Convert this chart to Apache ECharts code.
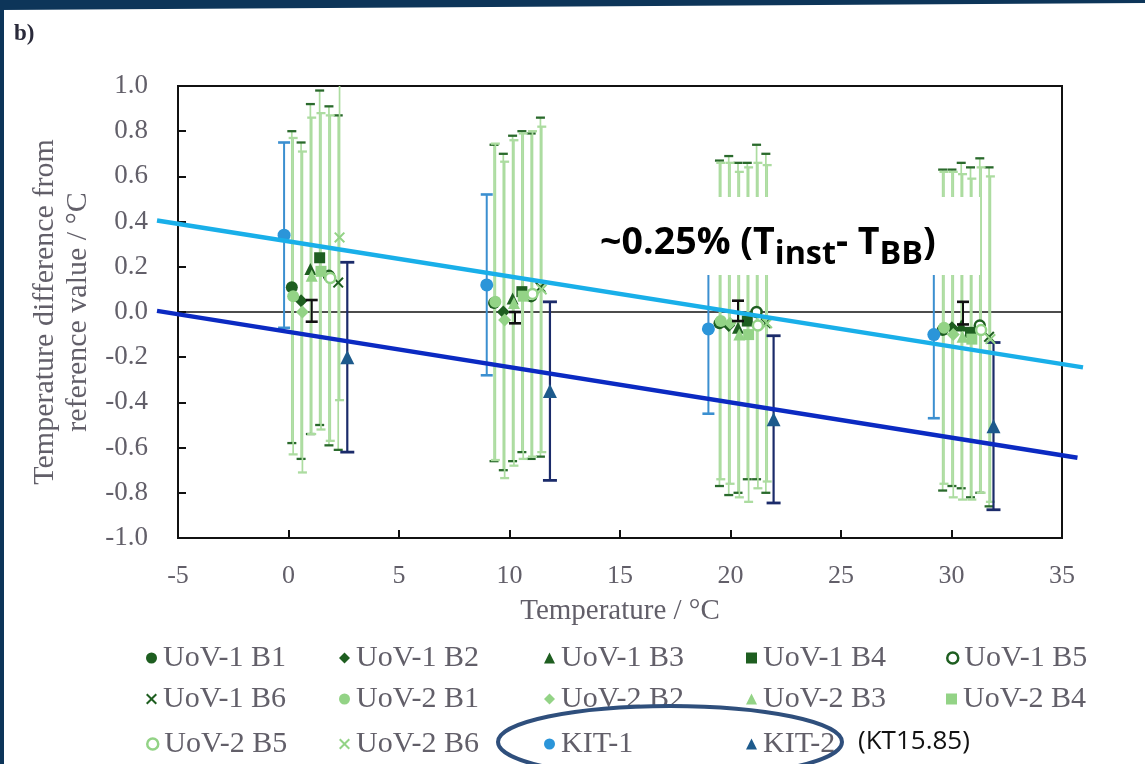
<!DOCTYPE html>
<html>
<head>
<meta charset="utf-8">
<script src="https://cdn.jsdelivr.net/npm/echarts@6/dist/echarts.min.js"></script>
<style>
  html, body { margin: 0; padding: 0; background: #ffffff; }
  #chart { width: 1145px; height: 764px; }
</style>
</head>
<body>
<div id="chart"></div>
<script>
// Each point: [temperature / °C, difference from reference / °C, ± uncertainty]
const uov1B1 = [[0.15, 0.11, 0.69], [9.30, 0.04, 0.70], [19.50, -0.05, 0.72], [29.60, -0.08, 0.71]];
const uov1B2 = [[0.57, 0.05, 0.70], [9.72, 0.00, 0.70], [19.92, -0.06, 0.75], [30.02, -0.07, 0.70]];
const uov1B3 = [[0.99, 0.19, 0.73], [10.14, 0.06, 0.72], [20.34, -0.07, 0.73], [30.44, -0.06, 0.72]];
const uov1B4 = [[1.41, 0.24, 0.74], [10.56, 0.09, 0.71], [20.76, -0.04, 0.70], [30.86, -0.09, 0.73]];
const uov1B5 = [[1.83, 0.16, 0.75], [10.98, 0.07, 0.72], [21.18, 0.00, 0.74], [31.28, -0.06, 0.74]];
const uov1B6 = [[2.25, 0.13, 0.74], [11.40, 0.11, 0.75], [21.60, -0.05, 0.75], [31.70, -0.11, 0.75]];
const uov2B1 = [[0.21, 0.07, 0.70], [9.36, 0.045, 0.70], [19.56, -0.04, 0.70], [29.66, -0.07, 0.69]];
const uov2B2 = [[0.63, 0.00, 0.71], [9.78, -0.035, 0.70], [19.98, -0.05, 0.71], [30.08, -0.10, 0.72]];
const uov2B3 = [[1.05, 0.16, 0.70], [10.20, 0.04, 0.72], [20.40, -0.10, 0.72], [30.50, -0.11, 0.72]];
const uov2B4 = [[1.47, 0.18, 0.70], [10.62, 0.07, 0.72], [20.82, -0.10, 0.74], [30.92, -0.12, 0.71]];
const uov2B5 = [[1.89, 0.15, 0.72], [11.04, 0.08, 0.72], [21.24, -0.06, 0.72], [31.34, -0.08, 0.72]];
const uov2B6 = [[2.31, 0.33, 0.72], [11.46, 0.10, 0.72], [21.66, -0.05, 0.70], [31.76, -0.12, 0.72]];
const kit1 = [[-0.20, 0.34, 0.41], [8.97, 0.12, 0.40], [19.00, -0.075, 0.375], [29.20, -0.10, 0.37]];
const kit2 = [[2.66, -0.20, 0.42], [11.83, -0.35, 0.395], [21.95, -0.475, 0.37], [31.90, -0.505, 0.37]];
// blackbody reference uncertainty
const bbRef = [[1.05, 0.005, 0.048], [10.25, -0.025, 0.025], [20.34, 0.005, 0.045], [30.52, -0.005, 0.05]];

// straight guide lines: [temperature, difference]
const zeroLine = [[-5, 0], [35, 0]];
const trendUpper = [[-5.95, 0.405], [35.95, -0.245]];
const trendLower = [[-5.95, 0.005], [35.70, -0.645]];

const xRange = { min: -5, max: 35, step: 5 };
const yRange = { min: -1, max: 1, step: 0.2 };

const DARK = '#1e5e20';
const LIGHT = '#93d386';
const BAR_LIGHT = '#acdca0';
const KIT1_C = '#2b95d9';
const KIT2_C = '#1d5a8c';
const KIT2_BAR = '#1b2b6a';
const SERIF = '"Liberation Serif", "DejaVu Serif", serif';
const SANS = '"Open Sans", Lato, sans-serif';
const TXT = '#625f69';
const CROSS = 'path://M1.3,0 L5,3.7 L8.7,0 L10,1.3 L6.3,5 L10,8.7 L8.7,10 L5,6.3 L1.3,10 L0,8.7 L3.7,5 L0,1.3 Z';

const groups = [
  { name: 'UoV-1 B1', data: uov1B1, symbol: 'circle', size: 12, color: DARK, cap: '#2a6a2c' },
  { name: 'UoV-1 B2', data: uov1B2, symbol: 'diamond', size: 13, color: DARK, cap: '#2a6a2c' },
  { name: 'UoV-1 B3', data: uov1B3, symbol: 'triangle', size: 12, color: DARK, cap: '#2a6a2c' },
  { name: 'UoV-1 B4', data: uov1B4, symbol: 'rect', size: 11, color: DARK, cap: '#2a6a2c' },
  { name: 'UoV-1 B5', data: uov1B5, symbol: 'circle', size: 10, color: DARK, cap: '#2a6a2c', hollow: true },
  { name: 'UoV-1 B6', data: uov1B6, symbol: CROSS, size: 11, color: DARK, cap: '#2a6a2c' },
  { name: 'UoV-2 B1', data: uov2B1, symbol: 'circle', size: 12, color: LIGHT },
  { name: 'UoV-2 B2', data: uov2B2, symbol: 'diamond', size: 13, color: LIGHT },
  { name: 'UoV-2 B3', data: uov2B3, symbol: 'triangle', size: 12, color: LIGHT },
  { name: 'UoV-2 B4', data: uov2B4, symbol: 'rect', size: 11, color: LIGHT },
  { name: 'UoV-2 B5', data: uov2B5, symbol: 'circle', size: 10, color: LIGHT, hollow: true },
  { name: 'UoV-2 B6', data: uov2B6, symbol: CROSS, size: 11, color: LIGHT },
  { name: 'KIT-1', data: kit1, symbol: 'circle', size: 13, color: KIT1_C, bar: '#3b8fd0', cap: '#3b8fd0', half: 6, width: 2 },
  { name: 'KIT-2', data: kit2, symbol: 'triangle', size: 14, color: KIT2_C, bar: KIT2_BAR, cap: KIT2_BAR, half: 7, width: 2.2 }
];

function errorBars(capHalf, lineColor, capColor, width) {
  return function (params, api) {
    const x = api.value(0), y = api.value(1), e = api.value(2);
    const top = api.coord([x, y + e]);
    const bot = api.coord([x, y - e]);
    const lineStyle = { stroke: lineColor, lineWidth: width, fill: null };
    const capStyle = { stroke: capColor, lineWidth: width + 0.6, fill: null };
    return {
      type: 'group',
      children: [
        { type: 'line', shape: { x1: top[0], y1: top[1], x2: bot[0], y2: bot[1] }, style: lineStyle },
        { type: 'line', shape: { x1: top[0] - capHalf, y1: top[1], x2: top[0] + capHalf, y2: top[1] }, style: capStyle },
        { type: 'line', shape: { x1: bot[0] - capHalf, y1: bot[1], x2: bot[0] + capHalf, y2: bot[1] }, style: capStyle }
      ]
    };
  };
}

const series = [];

series.push({
  name: 'zero', type: 'line', data: zeroLine, symbol: 'none', silent: true, z: 1,
  lineStyle: { color: '#111111', width: 1.5 }
});

groups.forEach(function (g) {
  series.push({
    name: g.name + ' uncertainty', type: 'custom', data: g.data, clip: true, silent: true, z: 2,
    encode: { x: 0, y: 1 },
    renderItem: errorBars(g.half || 4.5, g.bar || BAR_LIGHT, g.cap || BAR_LIGHT, g.width || 1.7)
  });
});
series.push({
  name: 'BB reference', type: 'custom', data: bbRef, clip: true, silent: true, z: 4,
  encode: { x: 0, y: 1 },
  renderItem: errorBars(6, '#111111', '#111111', 2)
});
groups.forEach(function (g) {
  series.push({
    name: g.name, type: 'scatter', data: g.data.map(function (d) { return [d[0], d[1]]; }),
    symbol: g.symbol, symbolSize: g.size, z: 3, silent: true,
    itemStyle: g.hollow
      ? { color: '#ffffff', borderColor: g.color, borderWidth: 2.5, opacity: 1 }
      : { color: g.color, opacity: 1 }
  });
});

// legend laid out as a 5-column grid
const colLeft = [141, 334, 539, 741, 941];
const rowTop = [638, 679, 724];
const legends = groups.map(function (g, i) {
  const item = { name: g.name };
  if (g.hollow) {
    item.itemStyle = { color: '#ffffff', borderColor: g.color, borderWidth: 2.5, opacity: 1 };
  } else {
    item.itemStyle = { color: g.color, opacity: 1 };
  }
  return {
    data: [item],
    left: colLeft[i % 5],
    top: rowTop[Math.floor(i / 5)],
    itemWidth: 11, itemHeight: 11, itemGap: 0,
    selectedMode: false,
    textStyle: { fontFamily: SERIF, fontSize: 30, color: TXT, padding: [0, 0, 0, 1] }
  };
});

const chart = echarts.init(document.getElementById('chart'), null, { renderer: 'canvas' });
chart.setOption({
  backgroundColor: '#ffffff',
  animation: false,
  grid: { left: 178, right: 83, top: 86, bottom: 226, show: true, borderColor: '#111111', borderWidth: 2, backgroundColor: 'transparent' },
  legend: legends,
  xAxis: {
    type: 'value', min: xRange.min, max: xRange.max, interval: xRange.step,
    name: 'Temperature / °C', nameLocation: 'middle', nameGap: 59,
    nameTextStyle: { fontFamily: SERIF, fontSize: 29, color: TXT },
    axisLine: { show: true, onZero: false, lineStyle: { color: '#111111', width: 2 } },
    axisTick: { show: true, inside: true, length: 8, lineStyle: { color: '#111111', width: 2 } },
    axisLabel: { fontFamily: SERIF, fontSize: 26, color: TXT, margin: 25 },
    splitLine: { show: false }
  },
  yAxis: {
    type: 'value', min: yRange.min, max: yRange.max, interval: yRange.step,
    name: 'Temperature difference from\nreference value / °C', nameLocation: 'middle', nameGap: 81, nameRotate: 90,
    nameTextStyle: { fontFamily: SERIF, fontSize: 30, color: TXT, lineHeight: 33 },
    axisLine: { show: true, onZero: false, lineStyle: { color: '#111111', width: 2 } },
    axisTick: { show: true, inside: true, length: 8, lineStyle: { color: '#111111', width: 2 } },
    axisLabel: {
      fontFamily: SERIF, fontSize: 27, color: TXT, margin: 30,
      formatter: function (v) { return v.toFixed(1); }
    },
    splitLine: { show: false }
  },
  series: series
});

// Guide lines run a little past the plot frame, so they are drawn as graphics
// positioned through the chart's own axis scales.
function toPixels(points) {
  return points.map(function (p) { return chart.convertToPixel({ gridIndex: 0 }, p); });
}

// Slope annotation with subscripts: pieces laid out left to right by measured width,
// then scaled together so the whole label fills its white box.
const measureCtx = document.createElement('canvas').getContext('2d');
function textWidth(text, size) {
  measureCtx.font = 'bold ' + size + 'px ' + SANS;
  return measureCtx.measureText(text).width;
}
const pieces = [['~0.25% (T', 35], ['inst', 30], ['- T', 35], ['BB', 30], [')', 35]];
const naturalWidth = pieces.reduce(function (s, p) { return s + textWidth(p[0], p[1]); }, 0);
const fit = Math.min(1.12, 336 / naturalWidth);
let cursor = 600;
const annotation = pieces.map(function (p) {
  const size = Math.round(p[1] * fit * 10) / 10;
  const isSub = p[1] === 30;
  const el = {
    type: 'text', x: cursor, y: (isSub ? 263 : 253) + Math.round(size * 0.24), z: 51,
    style: { text: p[0], fontFamily: SANS, fontWeight: 'bold', fontSize: size, fill: '#000000', verticalAlign: 'bottom' }
  };
  cursor += textWidth(p[0], size);
  return el;
});

chart.setOption({
  graphic: [
    // slide frame
    { type: 'polygon', shape: { points: [[0, 0], [1145, 0], [1145, 3], [0, 10]] }, style: { fill: '#0d3559' }, z: 100 },
    { type: 'rect', shape: { x: 0, y: 0, width: 4, height: 764 }, style: { fill: '#0d3559' }, z: 100 },
    { type: 'text', left: 14, top: 23, style: { text: 'b)', fontFamily: SERIF, fontWeight: 'bold', fontSize: 23, fill: '#2a2a3a' }, z: 100 },
    { type: 'polyline', shape: { points: toPixels(trendUpper) }, style: { stroke: '#19afe9', lineWidth: 4.5, fill: null }, z: 40 },
    { type: 'polyline', shape: { points: toPixels(trendLower) }, style: { stroke: '#0b2ac2', lineWidth: 4.5, fill: null }, z: 40 },
    { type: 'rect', shape: { x: 585, y: 197, width: 395, height: 78 }, style: { fill: '#ffffff' }, z: 50 }
  ].concat(annotation).concat([
    // KIT highlight
    { type: 'ellipse', shape: { cx: 670, cy: 742, rx: 172, ry: 36 }, style: { fill: null, stroke: '#2f4f7c', lineWidth: 4 }, z: 60 },
    { type: 'text', x: 858, y: 742, style: { text: '(KT15.85)', fontFamily: SANS, fontSize: 26, fill: '#111111', verticalAlign: 'middle' }, z: 60 }
  ])
});
</script>
</body>
</html>
